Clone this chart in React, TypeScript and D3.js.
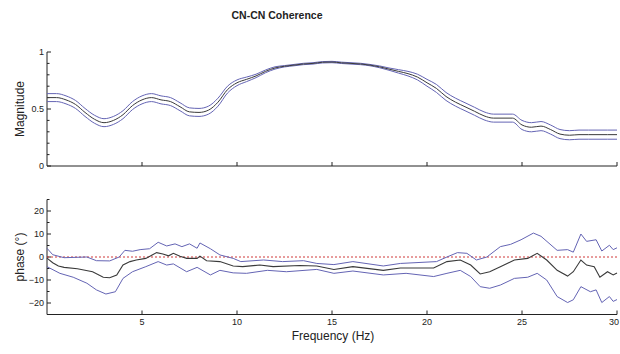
import React from "react";
import * as d3 from "d3";

const title = "CN-CN Coherence";
const xTicks = [5, 10, 15, 20, 25, 30];
const magMajorTicks = [0, 0.5, 1];
const magMinorTicks = [0.1, 0.2, 0.3, 0.4, 0.6, 0.7, 0.8, 0.9];
const phaseMajorTicks = [-20, -10, 0, 10, 20];
const phaseMinorTicks = [-25, -15, -5, 5, 15, 25];

const magFreq = [
  0, 0.5, 1, 1.5, 2, 2.5, 3, 3.5, 4, 4.5, 5, 5.5, 6, 6.5, 7, 7.5, 8, 8.5, 9, 9.5,
  10, 10.5, 11, 11.5, 12, 12.5, 13, 13.5, 14, 14.5, 15, 15.5, 16, 16.5, 17, 17.5, 18, 18.5, 19, 19.5,
  20, 20.5, 21, 21.5, 22, 22.5, 23, 23.5, 24, 24.5, 25, 25.5, 26, 26.5, 27, 27.5, 28, 28.5, 29, 29.5, 30,
];
const magMid = [
  0.6, 0.6, 0.58, 0.54, 0.47, 0.41, 0.38, 0.4, 0.45, 0.53, 0.58, 0.6, 0.58, 0.565, 0.52, 0.475, 0.47, 0.49, 0.56, 0.67,
  0.73, 0.76, 0.79, 0.83, 0.86, 0.875, 0.885, 0.895, 0.9, 0.91, 0.912, 0.905, 0.9, 0.895, 0.885, 0.87, 0.85, 0.83, 0.81, 0.78,
  0.73, 0.68, 0.61, 0.56, 0.52, 0.48, 0.44, 0.42, 0.42, 0.42, 0.36, 0.34, 0.35, 0.32, 0.28, 0.27, 0.275, 0.275, 0.275, 0.275, 0.275,
];
const magSpread = [
  0.035, 0.035, 0.035, 0.035, 0.035, 0.035, 0.035, 0.035, 0.035, 0.035, 0.035, 0.035, 0.035, 0.035, 0.035, 0.035, 0.035, 0.035, 0.035, 0.03,
  0.025, 0.02, 0.015, 0.012, 0.01, 0.006, 0.006, 0.006, 0.006, 0.006, 0.006, 0.006, 0.006, 0.006, 0.006, 0.008, 0.01, 0.015, 0.02, 0.025,
  0.03, 0.035, 0.035, 0.035, 0.035, 0.035, 0.035, 0.035, 0.035, 0.035, 0.04, 0.04, 0.04, 0.04, 0.04, 0.04, 0.04, 0.04, 0.04, 0.04, 0.04,
];

const phaseMidFreq = [
  0, 0.3, 0.6, 0.9, 1.6, 2.4, 2.96, 3.3, 3.67, 4.0, 4.37, 4.7, 5.2, 5.77, 6.1, 6.4, 6.65, 7.0, 7.35, 7.9,
  8.05, 8.4, 9.1, 9.8, 10.3, 11.2, 11.9, 13.3, 14.2, 15.1, 16.1, 17.7, 18.6, 20.35, 21.05, 21.75, 22.3, 22.8, 23.3, 23.86,
  24.6, 25.3, 25.8, 26.3, 26.85, 27.4, 27.7, 28.1, 28.4, 28.8, 29.1, 29.5, 29.8, 30,
];
const phaseMid = [
  -0.5, -2.5, -3.9, -4.5, -5.1, -6.4, -8.8, -9.0, -7.8, -3.5, -2.0, -1.3, -0.6, 1.9, 1.3, 0.5, 1.6, 0.3, -0.6, -0.6,
  0.4, -1.6, -2.0, -3.9, -4.2, -3.5, -4.2, -3.7, -3.9, -5.4, -4.2, -5.8, -4.8, -4.8, -2.0, -1.3, -3.5, -7.4, -6.4, -4.2,
  -1.3, -0.6, 1.6, -1.3, -5.8, -8.3, -6.4, -1.3, -3.5, -4.2, -8.8, -6.4, -7.8, -7.0,
];
const phaseUpFreq = [
  0, 0.3, 0.9, 2.1, 2.6, 3.3, 3.8, 4.1, 4.5, 4.9, 5.4, 5.85, 6.3, 6.74, 7.1, 7.5, 7.9, 8.05, 8.6, 9.1,
  9.8, 10.2, 11.4, 12.4, 13.5, 14.2, 15.1, 16.1, 17.7, 18.6, 20.5, 21.05, 21.6, 22.1, 22.6, 23.15, 23.86, 24.4, 24.95, 25.6,
  26.0, 26.85, 27.4, 27.7, 28.1, 28.4, 28.9, 29.2, 29.6, 29.8, 30,
];
const phaseUp = [
  3.8, 1.0, -0.3, 0, -1.6, -1.7, 0, 2.9, 2.5, 3.2, 3.6, 6.4, 4.8, 5.7, 4.5, 5.7, 3.8, 6.1, 3.6, 0.9,
  -0.6, -2.0, -1.3, -2.0, -1.6, -2.8, -3.3, -2.0, -3.9, -2.8, -2.0, 0, 1.9, 1.6, -1.3, 0, 4.5, 5.5, 7.5, 10.4,
  9.0, 2.9, 3.2, 2.1, 10.0, 6.8, 7.5, 2.6, 5.1, 3.2, 4.0,
];
const phaseLoFreq = [
  0, 0.68, 1.38, 2.1, 2.6, 3.1, 3.6, 4.0, 4.5, 5.2, 5.85, 6.3, 6.65, 7.35, 7.9, 8.6, 9.1, 9.8, 10.5, 11.6,
  12.6, 14.2, 15.1, 16.1, 17.7, 18.9, 20.35, 21.05, 21.75, 22.3, 22.8, 23.3, 23.86, 24.6, 25.3, 25.8, 26.3, 26.85, 27.4, 27.7,
  28.1, 28.6, 28.9, 29.2, 29.6, 29.8, 30,
];
const phaseLo = [
  -4.2, -7.1, -8.8, -11.4, -14.3, -16.1, -15.1, -9.3, -6.4, -4.2, -2.0, -3.5, -3.0, -6.4, -4.5, -7.8, -5.8, -6.9, -7.1, -5.8,
  -6.4, -5.4, -7.1, -6.1, -7.8, -7.1, -8.5, -7.1, -5.8, -8.5, -12.9, -13.6, -12.2, -9.3, -8.8, -7.1, -10.0, -17.2, -19.8, -18.6,
  -12.9, -15.1, -14.3, -19.8, -17.2, -19.3, -18.5,
];

const W = 620;
const H = 354;
const FONT = "'Liberation Sans', Arial, sans-serif";
const BLUE = "#6464b4";
const DARK = "#3a3a3a";

export default function App() {
  const x = d3.scaleLinear().domain([0, 30]).range([47, 617]);
  const yMag = d3.scaleLinear().domain([0, 1]).range([166, 52]);
  const yPh = d3.scaleLinear().domain([-25, 25]).range([314.5, 199.5]);

  const magLine = d3
    .line<[number, number]>()
    .x((d) => x(d[0]))
    .y((d) => yMag(d[1]))
    .curve(d3.curveMonotoneX);
  const phLine = d3
    .line<[number, number]>()
    .x((d) => x(d[0]))
    .y((d) => yPh(d[1]))
    .curve(d3.curveLinear);

  const magMidPts = magFreq.map((f, i) => [f, magMid[i]] as [number, number]);
  const magUpPts = magFreq.map((f, i) => [f, magMid[i] + magSpread[i]] as [number, number]);
  const magLoPts = magFreq.map((f, i) => [f, magMid[i] - magSpread[i]] as [number, number]);
  const phMidPts = phaseMidFreq.map((f, i) => [f, phaseMid[i]] as [number, number]);
  const phUpPts = phaseUpFreq.map((f, i) => [f, phaseUp[i]] as [number, number]);
  const phLoPts = phaseLoFreq.map((f, i) => [f, phaseLo[i]] as [number, number]);

  const x0 = x(0);
  const x1 = x(30);

  return (
    <svg
      width={W}
      height={H}
      style={{ position: "absolute", left: 0, top: 0, background: "#fff" }}
      fontFamily={FONT}
    >
      <rect x={0} y={0} width={W} height={H} fill="#fff" />
      <text x={277} y={19} textAnchor="middle" fontSize={10.5} fontWeight="bold" fill="#222">
        {title}
      </text>

      {/* Magnitude panel */}
      <g>
        <line x1={x0} x2={x0} y1={yMag(1)} y2={yMag(0)} stroke="#222" strokeWidth={1} />
        <line x1={x0} x2={x1} y1={yMag(0)} y2={yMag(0)} stroke="#222" strokeWidth={1} />
        {magMajorTicks.map((t) => (
          <g key={"mm" + t}>
            <line x1={x0} x2={x0 + 4} y1={yMag(t)} y2={yMag(t)} stroke="#222" />
            <text x={x0 - 3} y={yMag(t) + 3} textAnchor="end" fontSize={9} fill="#222">
              {t}
            </text>
          </g>
        ))}
        {magMinorTicks.map((t) => (
          <line key={"mn" + t} x1={x0} x2={x0 + 2.5} y1={yMag(t)} y2={yMag(t)} stroke="#222" />
        ))}
        {xTicks.map((t) => (
          <line key={"mx" + t} x1={x(t)} x2={x(t)} y1={yMag(0)} y2={yMag(0) - 4} stroke="#222" />
        ))}
        <text
          transform={`translate(24,${109}) rotate(-90)`}
          textAnchor="middle"
          fontSize={12}
          fill="#222"
        >
          Magnitude
        </text>
        <path d={magLine(magUpPts) ?? ""} fill="none" stroke={BLUE} strokeWidth={1} />
        <path d={magLine(magLoPts) ?? ""} fill="none" stroke={BLUE} strokeWidth={1} />
        <path d={magLine(magMidPts) ?? ""} fill="none" stroke={DARK} strokeWidth={1} />
      </g>

      {/* Phase panel */}
      <g>
        <line x1={x0} x2={x0} y1={yPh(25)} y2={yPh(-25)} stroke="#222" strokeWidth={1} />
        <line x1={x0} x2={x1} y1={yPh(-25)} y2={yPh(-25)} stroke="#222" strokeWidth={1} />
        {phaseMajorTicks.map((t) => (
          <g key={"pm" + t}>
            <line x1={x0} x2={x0 + 4} y1={yPh(t)} y2={yPh(t)} stroke="#222" />
            <text x={x0 - 3} y={yPh(t) + 3} textAnchor="end" fontSize={9} fill="#222">
              {t < 0 ? "\u2212" + Math.abs(t) : String(t)}
            </text>
          </g>
        ))}
        {phaseMinorTicks.map((t) => (
          <line key={"pn" + t} x1={x0} x2={x0 + 2.5} y1={yPh(t)} y2={yPh(t)} stroke="#222" />
        ))}
        {xTicks.map((t, i) => {
          const last = i === xTicks.length - 1;
          return (
            <g key={"px" + t}>
              <line x1={x(t)} x2={x(t)} y1={yPh(-25)} y2={yPh(-25) - 4} stroke="#222" />
              <text
                x={last ? W - 1 : x(t)}
                y={yPh(-25) + 10}
                textAnchor={last ? "end" : "middle"}
                fontSize={9}
                fill="#222"
              >
                {t}
              </text>
            </g>
          );
        })}
        <text
          transform={`translate(24,${257}) rotate(-90)`}
          textAnchor="middle"
          fontSize={12}
          fill="#222"
        >
          phase (°)
        </text>
        <text x={333} y={340} textAnchor="middle" fontSize={12} fill="#222">
          Frequency (Hz)
        </text>
        <line
          x1={x0}
          x2={x1}
          y1={yPh(0)}
          y2={yPh(0)}
          stroke="#d03838"
          strokeWidth={1}
          strokeDasharray="2,2"
        />
        <path d={phLine(phUpPts) ?? ""} fill="none" stroke={BLUE} strokeWidth={1} />
        <path d={phLine(phLoPts) ?? ""} fill="none" stroke={BLUE} strokeWidth={1} />
        <path d={phLine(phMidPts) ?? ""} fill="none" stroke={DARK} strokeWidth={1.1} />
      </g>
    </svg>
  );
}
